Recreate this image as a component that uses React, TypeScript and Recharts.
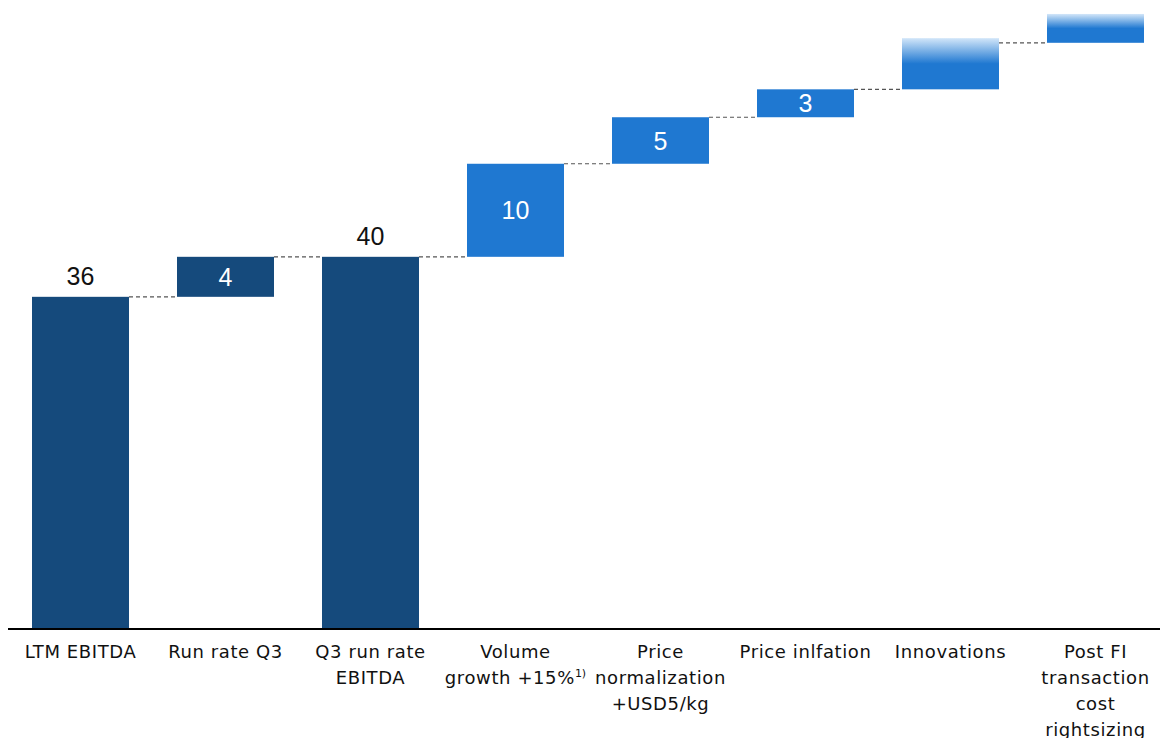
import React from 'react';
import { ComposedChart, Bar, XAxis, YAxis, LabelList } from 'recharts';

// waterfall: each bar runs from base to base + delta
const categories = [
  'LTM EBITDA',
  'Run rate Q3',
  'Q3 run rate EBITDA',
  'Volume growth +15%',
  'Price normalization +USD5/kg',
  'Price inlfation',
  'Innovations',
  'Post FI transaction cost rightsizing',
];
const bases = [0, 35.7, 0, 40, 50, 55, 58, 63];
const deltas = [35.7, 4.3, 40, 10, 5, 3, 5.5, 3.1];
const valueLabels = ['36', '4', '40', '10', '5', '3', '', ''];
const kinds = ['total', 'step', 'total', 'step', 'step', 'step', 'fade', 'fade'];

const tickLines = [
  ['LTM EBITDA'],
  ['Run rate Q3'],
  ['Q3 run rate', 'EBITDA'],
  ['Volume', 'growth +15%'],
  ['Price', 'normalization', '+USD5/kg'],
  ['Price inlfation'],
  ['Innovations'],
  ['Post FI', 'transaction', 'cost', 'rightsizing'],
];
const footnotes = ['', '', '', '1)', '', '', '', ''];

const NAVY = '#154a7c';
const BLUE = '#1f78d1';
const TICK_FONT = '"DejaVu Sans", Verdana, sans-serif';
const VALUE_FONT = '"Liberation Sans", Arial, sans-serif';
const BAR_GAP = 24;

const data = categories.map((name, i) => ({ name, base: bases[i], delta: deltas[i] }));

const barColor = (i: number) => {
  if (kinds[i] === 'total' || i === 1) return NAVY;
  if (kinds[i] === 'fade') return 'url(#fade)';
  return BLUE;
};

const WaterfallBar = (props: any) => {
  const { x, y, width, height, index } = props;
  let connector = null;
  if (index < categories.length - 1) {
    const next = index + 1;
    const level = kinds[next] === 'total' ? bases[next] + deltas[next] : bases[next];
    const scale = height / deltas[index];
    const ly = y + height - (level - bases[index]) * scale;
    connector = (
      <line x1={x + width} x2={x + width + BAR_GAP * 2} y1={ly} y2={ly}
        stroke="#555" strokeWidth={1.2} strokeDasharray="4 3" />
    );
  }
  return (
    <g>
      <rect x={x} y={y} width={width} height={height} fill={barColor(index)} />
      {connector}
    </g>
  );
};

const renderValue = (props: any) => {
  const { x, y, width, height, index } = props;
  const text = valueLabels[index];
  if (!text) return null;
  const cx = x + width / 2;
  if (kinds[index] === 'total') {
    return (
      <text x={cx} y={y - 12} textAnchor="middle" fill="#111" fontSize={25} fontFamily={VALUE_FONT}>{text}</text>
    );
  }
  return (
    <text x={cx} y={y + height / 2} dy="0.36em" textAnchor="middle" fill="#fff" fontSize={25} fontFamily={VALUE_FONT}>{text}</text>
  );
};

const CategoryTick = (props: any) => {
  const { x, y, index } = props;
  const lines = tickLines[index] || [];
  return (
    <text x={x} y={y} textAnchor="middle" fill="#111" fontSize={18} letterSpacing={0.6} fontFamily={TICK_FONT}>
      {lines.map((line, i) => (
        <tspan key={i} x={x} dy={i === 0 ? 21 : 26}>
          {line}
          {i === lines.length - 1 && footnotes[index] ? (
            <tspan fontSize={11} letterSpacing={0} dy={-7}>{footnotes[index]}</tspan>
          ) : null}
        </tspan>
      ))}
    </text>
  );
};

export default function App() {
  return (
    <div style={{ position: 'absolute', left: 8, top: 0, background: '#fff' }}>
      <ComposedChart width={1160} height={738} data={data}
        margin={{ top: 0, right: 0, bottom: 0, left: 0 }} barCategoryGap={BAR_GAP}>
        <defs>
          <linearGradient id="fade" x1="0" y1="0" x2="0" y2="1">
            <stop offset="0%" stopColor="#d2e6f9" />
            <stop offset="50%" stopColor={BLUE} />
            <stop offset="100%" stopColor={BLUE} />
          </linearGradient>
        </defs>
        <XAxis dataKey="name" interval={0} tickLine={false} height={109}
          axisLine={{ stroke: '#000', strokeWidth: 2 }} tick={<CategoryTick />} />
        <YAxis hide domain={[0, 67.6]} />
        <Bar dataKey="base" stackId="w" fill="transparent" isAnimationActive={false} />
        <Bar dataKey="delta" stackId="w" shape={<WaterfallBar />} isAnimationActive={false}>
          <LabelList dataKey="delta" content={renderValue} />
        </Bar>
      </ComposedChart>
    </div>
  );
}
